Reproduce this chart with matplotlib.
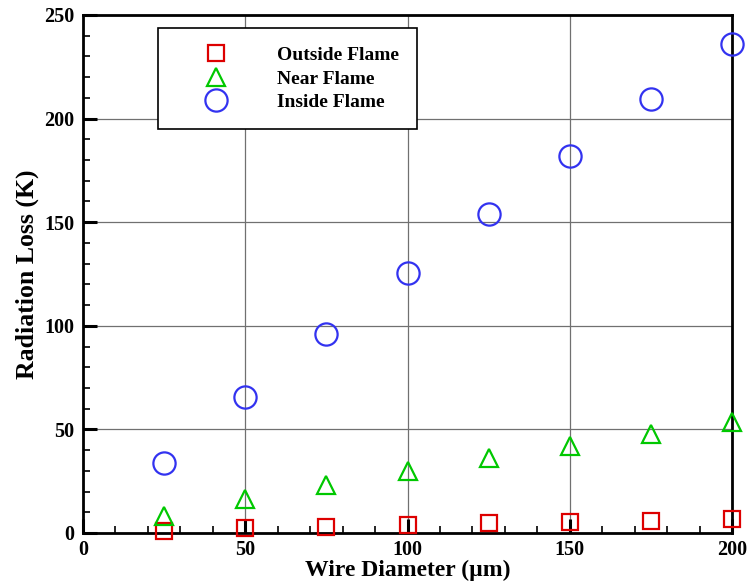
import matplotlib.pyplot as plt
from matplotlib.ticker import MultipleLocator

# wire diameter (um) and radiation loss (K) for the three locations
diameter = [25, 50, 75, 100, 125, 150, 175, 200]
outside_flame = [1.0, 2.2, 3.0, 4.0, 4.8, 5.3, 6.0, 6.7]
near_flame = [8.0, 16.5, 23.0, 30.0, 36.0, 42.0, 48.0, 53.5]
inside_flame = [34, 65.5, 96, 125.5, 154, 182, 209.5, 236]

plt.rcParams['font.family'] = ['Liberation Serif', 'DejaVu Serif']
plt.rcParams['font.weight'] = 'bold'

fig = plt.figure(figsize=(7.47, 5.82), dpi=100)
ax = fig.add_axes([83 / 747, 49 / 582, 649 / 747, 518 / 582])

ax.plot(diameter, outside_flame, 's', ls='none', ms=11.5, mfc='none',
        mec='#dd0000', mew=1.6, label='Outside Flame', clip_on=False, zorder=5)
ax.plot(diameter, near_flame, '^', ls='none', ms=13, mfc='none',
        mec='#00c800', mew=1.6, label='Near Flame', clip_on=False, zorder=5)
ax.plot(diameter, inside_flame, 'o', ls='none', ms=16, mfc='none',
        mec='#3232f0', mew=1.6, label='Inside Flame', clip_on=False, zorder=5)

ax.set_xlim(0, 200)
ax.set_ylim(0, 250)
ax.xaxis.set_major_locator(MultipleLocator(50))
ax.xaxis.set_minor_locator(MultipleLocator(10))
ax.yaxis.set_major_locator(MultipleLocator(50))
ax.yaxis.set_minor_locator(MultipleLocator(10))
ax.grid(True, which='major', color='#707070', lw=0.9)
ax.set_axisbelow(True)

ax.tick_params(which='both', direction='in', top=False, right=False,
               labelsize=14.5)
ax.tick_params(which='major', length=10, width=2.2)
ax.tick_params(which='minor', length=5, width=1.2)
ax.tick_params(axis='x', pad=5)
ax.tick_params(axis='y', pad=6)
for s in ax.spines.values():
    s.set_linewidth(2)

ax.set_xlabel('Wire Diameter (\u00b5m)', fontsize=17, fontweight='bold', labelpad=0)
ax.set_ylabel('Radiation Loss (K)', fontsize=18.5, fontweight='bold', labelpad=4)

leg = ax.legend(loc='upper left', bbox_to_anchor=(75 / 649, 1 - 13 / 518),
                fontsize=14, frameon=True, fancybox=False, edgecolor='black',
                framealpha=1, handletextpad=1.05, borderpad=0.95,
                labelspacing=0.3, handlelength=4.1, borderaxespad=0)
leg.get_frame().set_linewidth(1.2)

fig.savefig('out.png', dpi=100)
